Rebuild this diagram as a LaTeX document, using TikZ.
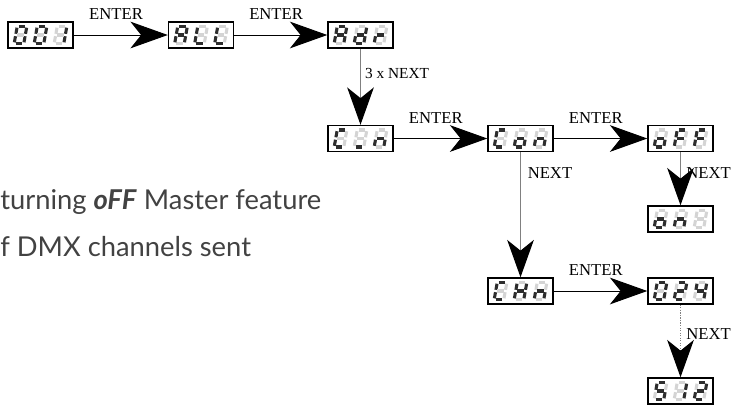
\documentclass[tikz,border=0pt]{standalone}
\usepackage{fontspec}
\setmainfont{Liberation Serif}
\newfontfamily\notefont{Lato}
\usetikzlibrary{arrows.meta}

\definecolor{segon}{RGB}{45,45,45}
\definecolor{segoff}{RGB}{212,212,212}
\definecolor{notegray}{RGB}{66,66,66}
\definecolor{linkgray}{RGB}{128,128,128}

\tikzset{
  display/.style={draw, line width=1.1pt, minimum width=48.75pt, minimum height=19.5pt, inner sep=0pt},
  seg1/.style={draw=segon, line width=2.3pt},
  seg0/.style={draw=segoff, line width=2.3pt},
  bigtip/.style={-{Stealth[length=28pt, width=20pt, inset=8pt, color=black]}},
  enter/.style={bigtip, line width=0.75pt},
  next/.style={bigtip, draw=linkgray, line width=0.9pt},
  keylabel/.style={font=\fontsize{12.5}{14}\selectfont, inner sep=0pt},
  note/.style={font=\notefont\fontsize{20.5}{24}\selectfont, text=notegray, inner sep=0pt},
}

% one seven segment digit: #1 centre, #2..#8 segments a b c d e f g (1 = lit)
\newcommand{\segdigit}[8]{%
  \begin{scope}[shift={#1},xslant=-0.18]
    \draw[seg#2] (-3.4,-8.5) -- (3.4,-8.5);
    \draw[seg#3] (4.8,-7.3) -- (4.8,-1.2);
    \draw[seg#4] (4.8,1.2) -- (4.8,7.3);
    \draw[seg#5] (-3.4,8.5) -- (3.4,8.5);
    \draw[seg#6] (-4.8,1.2) -- (-4.8,7.3);
    \draw[seg#7] (-4.8,-7.3) -- (-4.8,-1.2);
    \draw[seg#8] (-3.4,0) -- (3.4,0);
  \end{scope}}

\begin{document}
\begin{tikzpicture}[x=0.75pt,y=0.75pt,yscale=-1,xscale=1]
\clip (0,0) rectangle (731,405);

%Shape: Displays
\node[display] (d001) at (40.5,35) {};
\node[display] (dall) at (201,35) {};
\node[display] (dadr) at (360.5,35) {};
\node[display] (dcln) at (360.5,138.5) {};
\node[display] (dcon) at (520.5,138.5) {};
\node[display] (doff) at (680.5,138.5) {};
\node[display] (don) at (680.5,219) {};
\node[display] (dchn) at (520.5,291) {};
\node[display] (d024) at (680.5,291) {};
\node[display] (d512) at (680.5,391) {};

%Digits
\segdigit{(20.5,35)}1111110
\segdigit{(40.5,35)}1111110
\segdigit{(60.5,35)}0110000
\segdigit{(181,35)}1110111
\segdigit{(201,35)}0001110
\segdigit{(221,35)}0001110
\segdigit{(340.5,35)}1110111
\segdigit{(360.5,35)}0111101
\segdigit{(380.5,35)}0000101
\segdigit{(340.5,138.5)}1001110
\segdigit{(360.5,138.5)}0001000
\segdigit{(380.5,138.5)}0010101
\segdigit{(500.5,138.5)}1001110
\segdigit{(520.5,138.5)}0011101
\segdigit{(540.5,138.5)}0010101
\segdigit{(660.5,138.5)}0011101
\segdigit{(680.5,138.5)}1000111
\segdigit{(700.5,138.5)}1000111
\segdigit{(660.5,219)}0011101
\segdigit{(680.5,219)}0010101
\segdigit{(700.5,219)}0000000
\segdigit{(500.5,291)}1001110
\segdigit{(520.5,291)}0110111
\segdigit{(540.5,291)}0010101
\segdigit{(660.5,291)}1111110
\segdigit{(680.5,291)}1101101
\segdigit{(700.5,291)}0110011
\segdigit{(660.5,391)}1011011
\segdigit{(680.5,391)}0110000
\segdigit{(700.5,391)}1101101

%Straight Lines
\draw[enter] (d001) -- (dall) node[keylabel, pos=0.45, above=11pt] {ENTER};
\draw[enter] (dall) -- (dadr) node[keylabel, pos=0.45, above=11pt] {ENTER};
\draw[next] (dadr.south) -- (dcln.north) node[keylabel, pos=0.32, right=3pt, font=\fontsize{11.5}{13}\selectfont] {3 x NEXT};
\draw[enter] (dcln) -- (dcon) node[keylabel, pos=0.45, above=11pt] {ENTER};
\draw[enter] (dcon) -- (doff) node[keylabel, pos=0.45, above=11pt] {ENTER};
\draw[next] (dcon.south) -- (dchn.north) node[keylabel, pos=0.17, right=5pt] {NEXT};
\draw[next] (doff.south) -- (don.north) node[keylabel, pos=0.4, right=4pt] {NEXT};
\draw[enter] (dchn) -- (d024) node[keylabel, pos=0.45, above=11pt] {ENTER};
\draw[next, densely dotted] (d024.south) -- (d512.north) node[keylabel, pos=0.4, right=4pt] {NEXT};

% Text Node
\node[note, anchor=base west] (featnote) at (0,209) {turning \textbf{\textit{oFF}} Master feature};
% Text Node
\node[note, anchor=base west] (chnote) at (0,256) {f DMX channels sent};

\end{tikzpicture}
\end{document}
